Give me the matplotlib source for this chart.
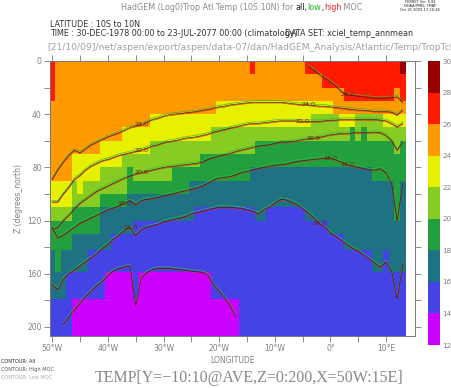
import numpy as np
import matplotlib
matplotlib.use("Agg")
import matplotlib.pyplot as plt
from matplotlib.colors import ListedColormap, BoundaryNorm
from matplotlib.transforms import offset_copy

N = np.nan
# ---------------- data ----------------
LON = np.arange(-50, 14)                      # grid-cell centres (deg E)
Z_EDGES = [0, 10, 20, 30, 40, 50, 60, 70, 80, 90, 100, 110, 120, 130, 142, 159, 179, 207]
LEVELS = [12, 14, 16, 18, 20, 22, 24, 26, 28, 30]
COLORS = ["#cc00ff", "#4444e6", "#1e7284", "#22a03e", "#86cc22",
          "#e6f000", "#ff9b00", "#ff1a00", "#990000"]

# shaded field: depth of the bottom of the region warmer than each level,
# as runs (first lon, last lon, depth)
SHADE_28 = [(13, 13, 10)]
SHADE_26 = [(-50, -50, 30), (-14, -14, 10), (-4, -2, 10), (-1, 2, 20), (3, 11, 30),
            (12, 12, 20), (13, 13, 30)]
SHADE_24 = [(-50, -47, 90), (-46, -42, 70), (-41, -38, 60), (-37, -33, 50),
            (-32, -21, 40), (-20, 0, 30), (1, 13, 40)]
SHADE_22 = [(-50, -47, 110), (-46, -46, 90), (-45, -45, 100), (-44, -42, 90),
            (-41, -38, 80), (-37, -33, 70), (-32, -22, 60), (-21, -4, 50),
            (-3, 1, 40), (2, 4, 50), (5, 9, 40), (10, 13, 50)]
SHADE_20 = [(-50, -47, 120), (-46, -42, 110), (-41, -37, 100), (-36, -36, 80),
            (-35, -29, 90), (-28, -24, 80), (-23, -14, 70), (-13, 3, 60), (4, 4, 50),
            (5, 5, 60), (6, 6, 50), (7, 11, 60), (12, 12, 70), (13, 13, 60)]
SHADE_18 = [(-50, -50, 142), (-49, -49, 159), (-48, -47, 142), (-46, -42, 130),
            (-41, -37, 110), (-36, -26, 100), (-25, -15, 90), (-14, 7, 80),
            (8, 11, 90), (12, 12, 120), (13, 13, 90)]
SHADE_16 = [(-50, -48, 179), (-47, -44, 159), (-43, -40, 142), (-39, -36, 130),
            (-35, -25, 120), (-24, -14, 110), (-13, -12, 120), (-11, -5, 110),
            (-4, -1, 120), (0, 2, 130), (3, 7, 142), (8, 9, 159), (10, 10, 142),
            (11, 13, 159)]
SHADE_14 = [(-50, -47, 207), (-46, -41, 179), (-40, -36, 159), (-35, -35, 179),
            (-34, -22, 159), (-21, -17, 179), (-16, 13, 207)]

# isotherm depths (contour lines) at each longitude of LON
ISO_26 = [N] * 46 + [4, 7, 10, 13, 16, 19, 23, 25.5, 26, 26.5, 27, 27.5, 28, 28, 28, 27.5, 27, 31]
ISO_24 = [89, 82, 76, 71, 67, 69, 66, 63, 61, 59,
          57, 55.5, 54, 52, 50, 49, 48, 46, 44, 43,
          41.5, 40.5, 40, 39.5, 39, 38.5, 38, 37, 36.5, 35.5,
          34.5, 34, 33, 32.5, 32, 31.5, 31, 31, 31, 31,
          31, 31, 31.5, 32, 32.5, 33, 33, 33.5, 34, 34,
          34.5, 35, 35.5, 36, 36.5, 37, 37, 37.5, 38, 38,
          38, 38.5, 40.5, 37]
ISO_22 = [106, 106, 100, 95, 89, 86, 82, 79, 77, 75,
          74, 72.5, 71, 70, 69, 68, 67, 65.5, 64, 63,
          61.5, 60.5, 60, 59, 58, 57.5, 57, 56, 55, 53.5,
          52.5, 51.5, 50.5, 49.5, 48.5, 47.5, 47, 47, 46.5, 46,
          45.5, 45, 45, 45, 45, 45.5, 45.5, 45.5, 45.5, 45,
          44.5, 44.5, 44, 44, 44, 44, 44, 44, 44, 44.5,
          45, 47, 49.5, 47]
ISO_20 = [127, 125, 120, 116, 111, 107, 104, 101, 98, 96,
          94, 92, 90, 88, 86.5, 85, 84, 83, 82, 81,
          80, 79.5, 79, 78.5, 78, 77.5, 77, 76, 74, 72.5,
          71.5, 70.5, 69.5, 68, 67, 66, 65, 64, 63.5, 63,
          62, 61, 61, 60.5, 60, 59, 58.5, 58, 57.5, 56.5,
          55.5, 55, 54.5, 54.5, 54, 54, 54, 54, 53.5, 54,
          56, 60, 67, 61]
ISO_18 = [125, 133, 131, 128, 125, 122, 120, 118, 116, 114,
          112, 110.5, 109, 107, 105, 108, 105, 104, 103.5, 102.5,
          101.5, 100.5, 99.5, 98.5, 97.5, 96.5, 95.5, 94, 92, 89.5,
          88, 87.5, 87, 85.5, 84, 83, 82, 81, 80, 79,
          78.5, 78, 77.5, 76.5, 75.5, 75, 74.5, 74, 73.5, 73,
          73, 74.5, 76, 78, 79, 80, 81, 82, 82, 81,
          84, 92, 120, 92]
ISO_16 = [168, 172, 164, 160, 157, 154, 151, 148, 145, 141,
          138, 134, 131, 127, 125, 131, 127, 125, 124, 123,
          121, 120, 119, 118, 117, 115, 114, 113, 112, 111,
          110, 110, 110, 110.5, 111, 112, 113, 115, 112, 110,
          107, 104, 104.5, 106, 108, 111, 114, 118, 122, 125,
          129, 132, 135, 138, 141, 143, 146, 149, 152, 155,
          151, 158, 179, 153]
ISO_14 = [N, N, 198, 192, 187, 182, 177, 173, 169, 166,
          161, 158, 156, 155, 154, 184, 163, 159, 157, 156,
          156, 156, 156.5, 157, 157.5, 158, 158.5, 159, 161, 168,
          173, 178, 184, 192] + [N] * 30

LABELS = [(26, 3), (24, -34), (24, -4), (22, -34), (22, -5), (20, -34), (20, -3),
          (18, -37), (18, 0), (18, 3), (16, -36), (16, -2)]

XTICKS = [-50, -40, -30, -20, -10, 0, 10]
XTICKLABELS = ["50°W", "40°W", "30°W", "20°W", "10°W", "0°", "10°E"]
YTICKS = [0, 40, 80, 120, 160, 200]

# ---------------- figure ----------------
fig = plt.figure(figsize=(4.52, 3.88), dpi=100)
ax = fig.add_axes([50 / 452, 1 - 336 / 388, 365 / 452, 275 / 388])

shades = [SHADE_14, SHADE_16, SHADE_18, SHADE_20, SHADE_22, SHADE_24, SHADE_26, SHADE_28]
zc = 0.5 * (np.array(Z_EDGES[:-1]) + np.array(Z_EDGES[1:]))
cls = np.zeros((len(zc), len(LON)))
for segs in shades:
    edge = np.zeros(len(LON))
    for a, b, d in segs:
        edge[a + 50:b + 51] = d
    cls += (zc[:, None] < edge[None, :])
field = 13 + 2 * cls

cmap = ListedColormap(COLORS)
norm = BoundaryNorm(LEVELS, cmap.N)
xedges = np.append(LON - 0.5, LON[-1] + 0.5)
mesh = ax.pcolormesh(xedges, Z_EDGES, field, cmap=cmap, norm=norm, shading="flat")

isos = {26: ISO_26, 24: ISO_24, 22: ISO_22, 20: ISO_20, 18: ISO_18, 16: ISO_16, 14: ISO_14}
tr_g = offset_copy(ax.transData, fig=fig, x=0, y=1.6, units="dots")
tr_r = offset_copy(ax.transData, fig=fig, x=0, y=-0.8, units="dots")
for lev, d in isos.items():
    d = np.array(d, dtype=float)
    ax.plot(LON, d, color="#3cb83c", lw=0.45, transform=tr_g)
    ax.plot(LON, d, color="#d8302a", lw=0.45, transform=tr_r)
    ax.plot(LON, d, color="#3a1414", lw=0.45)
for lev, lon in LABELS:
    ax.text(lon, isos[lev][lon + 50], f"{lev}.0", fontsize=4.6, color="#6a2010",
            ha="center", va="center")

ax.set_xlim(-50.4, 15.2)
ax.set_ylim(206.8, 0)
ax.set_xticks(XTICKS)
ax.set_xticklabels(XTICKLABELS)
ax.set_xticks(np.array(XTICKS[:-1]) + 5, minor=True)
ax.set_yticks(YTICKS)
ax.set_yticks([20, 60, 100, 140, 180], minor=True)
ax.tick_params(which="both", direction="out", top=True, right=True, length=4,
               width=0.6, color="#777777", labelsize=5.5, labelcolor="#808080", pad=2)
ax.tick_params(which="minor", length=4)
for s in ax.spines.values():
    s.set_color("#777777")
    s.set_linewidth(0.7)
ax.set_xlabel("LONGITUDE", fontsize=5.5, color="#808080", labelpad=2)
ax.set_ylabel("Z (degrees_north)", fontsize=5.5, color="#808080", labelpad=3)

# colour bar
cax = fig.add_axes([428 / 452, 1 - 345 / 388, 12 / 452, 284 / 388])
cb = fig.colorbar(mesh, cax=cax, ticks=LEVELS)
cb.outline.set_visible(False)
cax.tick_params(length=0, labelsize=5.2, labelcolor="#808080", pad=1.5)

# header texts
t1 = fig.text(121 / 452, 1 - 10 / 388, "HadGEM (Log0)Trop Atl Temp (10S:10N) for ",
              fontsize=5.8, color="#8a8a8a", ha="left", va="baseline")
t2 = ax.annotate("all,", xy=(1, 0), xycoords=t1, fontsize=5.8, color="#222222",
                 va="bottom", ha="left", annotation_clip=False)
t3 = ax.annotate("low", xy=(1, 0), xycoords=t2, fontsize=5.8, color="#22bb22",
                 va="bottom", ha="left", annotation_clip=False)
t4 = ax.annotate(",", xy=(1, 0), xycoords=t3, fontsize=5.8, color="#222222",
                 va="bottom", ha="left", annotation_clip=False)
t5 = ax.annotate("high", xy=(1, 0), xycoords=t4, fontsize=5.8, color="#ee2222",
                 va="bottom", ha="left", annotation_clip=False)
t6 = ax.annotate(" MOC", xy=(1, 0), xycoords=t5, fontsize=5.8, color="#8a8a8a",
                 va="bottom", ha="left", annotation_clip=False)
fig.text(420 / 452, 1 - 6 / 388, "FERRET Ver. 5.81\nNOAA/PMEL TMAP\nOct 21 2009 17:16:38",
         fontsize=2.6, color="#222222", ha="center", va="center", linespacing=1.1)
fig.text(50 / 452, 1 - 27 / 388, "LATITUDE : 10S to 10N", fontsize=5.8, color="#333333",
         ha="left", va="baseline")
fig.text(50 / 452, 1 - 36 / 388, "TIME : 30-DEC-1978 00:00 to 23-JUL-2077 00:00 (climatology)",
         fontsize=5.8, color="#333333", ha="left", va="baseline")
fig.text(285 / 452, 1 - 36 / 388, "DATA SET: xciel_temp_annmean", fontsize=5.8,
         color="#333333", ha="left", va="baseline")
fig.text(47 / 452, 1 - 50 / 388,
         "[21/10/09]/net/aspen/export/aspen/data-07/dan/HadGEM_Analysis/Atlantic/Temp/TropTcline",
         fontsize=6.6, color="#a0a0a0", ha="left", va="baseline")

fig.text(1 / 452, 1 - 363 / 388, "CONTOUR: All", fontsize=3.6, color="#222222",
         ha="left", va="baseline")
fig.text(1 / 452, 1 - 371 / 388, "CONTOUR: High MOC", fontsize=3.6, color="#555555",
         ha="left", va="baseline")
fig.text(1 / 452, 1 - 379 / 388, "CONTOUR: Low MOC", fontsize=3.6, color="#aaaaaa",
         ha="left", va="baseline")
fig.text(249 / 452, 1 - 382 / 388, "TEMP[Y=\u221210:10@AVE,Z=0:200,X=50W:15E]",
         fontsize=11.5, color="#888888", ha="center", va="baseline",
         family="Liberation Serif")

fig.savefig("out.png", dpi=100)
